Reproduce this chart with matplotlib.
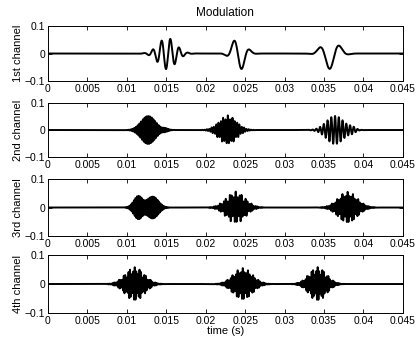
import numpy as np
import matplotlib
matplotlib.use("Agg")
import matplotlib.pyplot as plt

plt.rcParams['font.family'] = ['Liberation Sans', 'DejaVu Sans']

# burst description per channel
# centre (s), envelope width (s), peak amplitude, carrier (Hz), carrier phase ref (s), beat ratio
ch1_centres = [0.0151, 0.0242, 0.0358]
ch1_widths = [0.0011, 0.0008, 0.0010]
ch1_amps = [-0.057, -0.0625, -0.056]
ch1_freqs = [900, 470, 370]
ch1_refs = [0.01496, 0.0246, 0.0357]
ch1_beats = [0.0, 0.0, 0.0]

ch2_centres = [0.0127, 0.0146, 0.0228, 0.0364, 0.0386]
ch2_widths = [0.0009, 0.0005, 0.0011, 0.0011, 0.0004]
ch2_amps = [0.052, 0.012, 0.054, 0.052, 0.008]
ch2_freqs = [4500, 4700, 3400, 2100, 2100]
ch2_refs = [0.0127, 0.0127, 0.0228, 0.0364, 0.0364]
ch2_beats = [0.0, 0.0, 0.15, 0.0, 0.0]

ch3_centres = [0.0115, 0.0133, 0.0238, 0.0380]
ch3_widths = [0.0006, 0.0007, 0.0012, 0.0012]
ch3_amps = [0.042, 0.038, 0.056, 0.055]
ch3_freqs = [5000, 5200, 4000, 4500]
ch3_refs = [0.0115, 0.0133, 0.0238, 0.0380]
ch3_beats = [0.0, 0.0, 0.3, 0.25]

ch4_centres = [0.0110, 0.0247, 0.0342]
ch4_widths = [0.0012, 0.0012, 0.0011]
ch4_amps = [0.058, 0.055, 0.058]
ch4_freqs = [5000, 4600, 5200]
ch4_refs = [0.0110, 0.0247, 0.0342]
ch4_beats = [0.3, 0.25, 0.3]

beat_offset = 1500  # Hz
fs = 200000
duration = 0.045

channel_names = ['1st channel', '2nd channel', '3rd channel', '4th channel']
xticks = [0, 0.005, 0.01, 0.015, 0.02, 0.025, 0.03, 0.035, 0.04, 0.045]
xticklabels = ['0', '0.005', '0.01', '0.015', '0.02', '0.025', '0.03', '0.035', '0.04', '0.045']
yticks = [-0.1, 0, 0.1]
yticklabels = ['\u22120.1', '0', '0.1']


def channel(t, centres, widths, amps, freqs, refs, beats):
    y = np.zeros_like(t)
    for c, w, a, f, r, b in zip(centres, widths, amps, freqs, refs, beats):
        env = np.exp(-(t - c) ** 2 / (2 * w ** 2))
        carrier = np.cos(2 * np.pi * f * (t - r)) + b * np.cos(2 * np.pi * (f + beat_offset) * (t - r))
        y += a * env * carrier / (1 + b)
    return y


t = np.arange(0, duration, 1.0 / fs)
signals = [
    channel(t, ch1_centres, ch1_widths, ch1_amps, ch1_freqs, ch1_refs, ch1_beats),
    channel(t, ch2_centres, ch2_widths, ch2_amps, ch2_freqs, ch2_refs, ch2_beats),
    channel(t, ch3_centres, ch3_widths, ch3_amps, ch3_freqs, ch3_refs, ch3_beats),
    channel(t, ch4_centres, ch4_widths, ch4_amps, ch4_freqs, ch4_refs, ch4_beats),
]

fig = plt.figure(figsize=(4.17, 3.37), dpi=100)
positions = [
    [0.1151, 0.7596, 0.851, 0.1632],
    [0.1151, 0.5341, 0.851, 0.1602],
    [0.1151, 0.2997, 0.851, 0.169],
    [0.1151, 0.0712, 0.851, 0.172],
]

for i in range(4):
    ax = fig.add_axes(positions[i])
    ax.plot(t, signals[i], color='black', lw=1.4)
    ax.set_xlim(0, duration)
    ax.set_ylim(-0.1, 0.1)
    ax.set_xticks(xticks)
    ax.set_xticklabels(xticklabels)
    ax.set_yticks(yticks)
    ax.set_yticklabels(yticklabels)
    ax.tick_params(direction='in', top=True, right=True, length=3, width=0.6,
                   labelsize=7.5, pad=2)
    for sp in ax.spines.values():
        sp.set_linewidth(0.7)
    ax.set_ylabel(channel_names[i], fontsize=8, labelpad=1)
    if i == 0:
        ax.set_title('Modulation', fontsize=8.5, pad=7)
    if i == 3:
        ax.set_xlabel('time (s)', fontsize=8, labelpad=0)

fig.savefig('out.png', dpi=100)
